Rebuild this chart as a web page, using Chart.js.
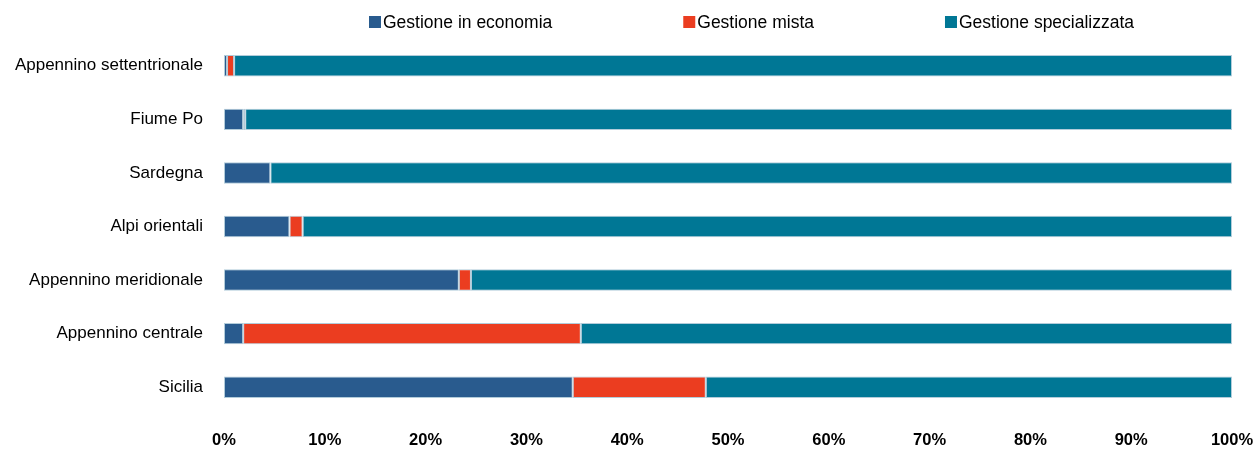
<!DOCTYPE html>
<html>
<head>
<meta charset="utf-8">
<script src="https://cdn.jsdelivr.net/npm/chart.js@4"></script>
<style>
  body { margin: 0; background: #fff; }
  #wrap { width: 1256px; height: 450px; }
</style>
</head>
<body>
<div id="wrap"><canvas id="grafico" width="1256" height="450"></canvas></div>
<script>
const categorie = ['Appennino settentrionale', 'Fiume Po', 'Sardegna', 'Alpi orientali', 'Appennino meridionale', 'Appennino centrale', 'Sicilia'];
const economia = [0.3, 1.9, 4.6, 6.5, 23.3, 1.9, 34.6];
const mista = [0.7, 0.2, 0, 1.3, 1.2, 33.5, 13.2];
const specializzata = [99.0, 97.9, 95.4, 92.2, 75.5, 64.6, 52.2];
const tickPercentuali = [0, 10, 20, 30, 40, 50, 60, 70, 80, 90, 100];

const FONT = "'Liberation Sans', Arial, sans-serif";

// legenda disegnata a mano: spaziatura larga tra le voci
const legendaLarga = {
    id: 'legendaLarga',
    afterDraw(chart) {
        const ctx = chart.ctx;
        ctx.save();
        ctx.font = '17.5px ' + FONT;
        ctx.textBaseline = 'middle';
        let x = 369;
        chart.data.datasets.forEach(ds => {
            ctx.fillStyle = ds.backgroundColor;
            ctx.fillRect(x, 16, 12, 12);
            ctx.fillStyle = '#000';
            ctx.fillText(ds.label, x + 14, 23);
            x += 14 + ctx.measureText(ds.label).width + 131;
        });
        ctx.restore();
    }
};

new Chart(document.getElementById('grafico'), {
    type: 'bar',
    data: {
        labels: categorie,
        datasets: [
            { label: 'Gestione in economia', data: economia, backgroundColor: '#295b8e' },
            { label: 'Gestione mista', data: mista, backgroundColor: '#eb3d20' },
            { label: 'Gestione specializzata', data: specializzata, backgroundColor: '#007795' }
        ]
    },
    options: {
        indexAxis: 'y',
        responsive: false,
        animation: false,
        layout: { padding: { top: 39, right: 0, bottom: 0, left: 0 } },
        datasets: {
            bar: {
                categoryPercentage: 1,
                barPercentage: 0.4,
                borderWidth: 1,
                borderColor: 'rgba(170,198,214,0.9)',
                borderSkipped: false
            }
        },
        plugins: {
            legend: { display: false },
            tooltip: { enabled: false }
        },
        scales: {
            x: {
                stacked: true,
                min: 0,
                max: 100,
                grid: { display: false, drawTicks: false },
                border: { display: false },
                afterBuildTicks: scale => { scale.ticks = tickPercentuali.map(v => ({ value: v })); },
                afterFit: scale => { scale.height = 36; scale.paddingRight = 24; },
                ticks: {
                    padding: 18,
                    color: '#000',
                    font: { family: FONT, size: 16.5, weight: 'bold', lineHeight: 1 },
                    maxRotation: 0,
                    callback: v => v + '%'
                }
            },
            y: {
                stacked: true,
                grid: { display: false, drawTicks: false },
                border: { display: false },
                afterFit: scale => { scale.width = 224; },
                ticks: {
                    padding: 21,
                    color: '#000',
                    font: { family: FONT, size: 17 }
                }
            }
        }
    },
    plugins: [legendaLarga]
});
</script>
</body>
</html>
